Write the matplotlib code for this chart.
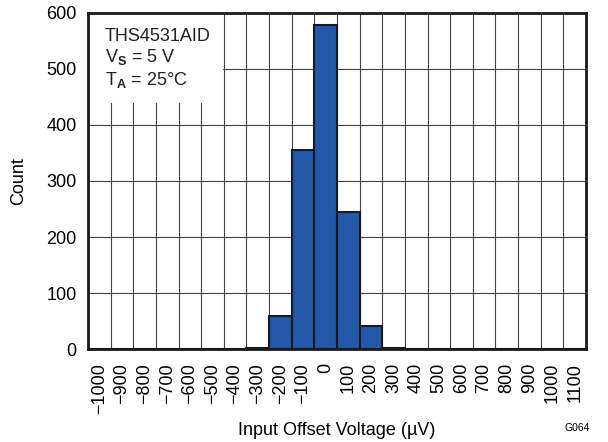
import numpy as np
import matplotlib
matplotlib.use("Agg")
import matplotlib.pyplot as plt
from matplotlib.patches import Rectangle

plt.rcParams["font.family"] = ["Liberation Sans", "DejaVu Sans"]
plt.rcParams["mathtext.fontset"] = "custom"
plt.rcParams["mathtext.rm"] = "Liberation Sans"
plt.rcParams["mathtext.bf"] = "Liberation Sans:bold"

# histogram bins (centres, uV) and counts
bin_centers = np.arange(-1000, 1101, 100)
counts = [0, 0, 0, 0, 0, 0, 0, 1, 59, 355, 578, 245, 41, 1,
          0, 0, 0, 0, 0, 0, 0, 0]
tick_labels = [str(v).replace("-", "\u2212") for v in bin_centers]
y_ticks = [0, 100, 200, 300, 400, 500, 600]

fig = plt.figure(figsize=(6.08, 4.42), dpi=100)
ax = fig.add_axes([0.1447, 0.2104, 0.8191, 0.7602])

ax.bar(bin_centers, counts, width=100, color="#2358a8", edgecolor="#1a1a1a",
       linewidth=1.5, zorder=3)

ax.set_xlim(-1050, 1150)
ax.set_ylim(0, 600)
ax.set_xticks(bin_centers)
ax.set_xticklabels(tick_labels, rotation=90, fontsize=13)
ax.set_xticks(np.arange(-1050, 1151, 100), minor=True)
ax.set_yticks(y_ticks)
ax.set_yticklabels([str(v) for v in y_ticks], fontsize=13)
ax.tick_params(axis="both", which="both", length=0)
ax.tick_params(axis="x", pad=10)
ax.tick_params(axis="y", pad=8)

ax.set_axisbelow(True)
ax.grid(True, axis="x", which="minor", color="#444444", linewidth=0.8, zorder=0.5)
ax.grid(True, axis="y", which="major", color="#444444", linewidth=0.8, zorder=0.5)
for s in ax.spines.values():
    s.set_linewidth(2)
    s.set_color("#1a1a1a")
    s.set_zorder(5)

# white patch behind the annotation
ax.add_patch(Rectangle((0, 0.732), 0.271, 0.268, transform=ax.transAxes,
                       facecolor="white", edgecolor="none", zorder=1))
ax.text(0.034, 0.955, "THS4531AID\nV$_\\mathbf{S}$ = 5 V\nT$_\\mathbf{A}$ = 25\u00b0C",
        transform=ax.transAxes, fontsize=13, va="top", ha="left",
        linespacing=1.15, color="#222222", zorder=2)

ax.set_ylabel("Count", fontsize=13, labelpad=14)
ax.set_xlabel("Input Offset Voltage (\u00b5V)", fontsize=13, labelpad=6)
fig.text(0.97, 0.032, "G064", fontsize=7.5, ha="right", va="center")

plt.savefig("out.png", dpi=100)
